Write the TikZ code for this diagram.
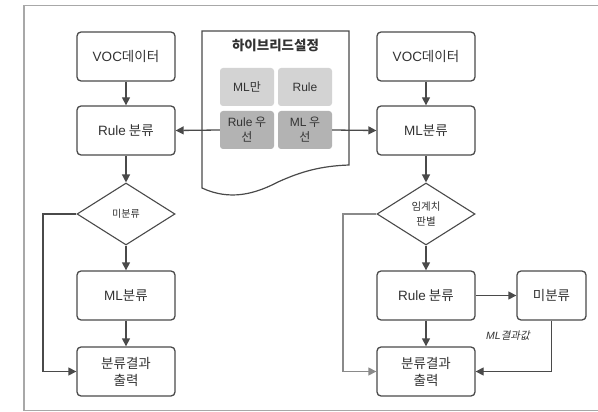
\documentclass[tikz,border=0pt]{standalone}
\usepackage{fontspec}
\setmainfont{Noto Sans CJK KR}
\newfontfamily\lat{Liberation Sans}
\newfontfamily\latit{Liberation Sans Italic}
\newfontfamily\krslant[FakeSlant=0.2]{Noto Sans CJK KR}
\usetikzlibrary{arrows.meta,shapes.geometric}
\definecolor{edge}{HTML}{4A4A4A}
\definecolor{frame}{HTML}{A8A8A8}
\definecolor{ink}{HTML}{333333}
\definecolor{loop}{HTML}{8A8A8A}
\definecolor{tilelight}{HTML}{D3D3D3}
\definecolor{tiledark}{HTML}{B3B3B3}
\tikzset{
  box/.style={draw=edge, line width=1.3pt, rounded corners=4pt, fill=white,
    minimum width=98pt, minimum height=49pt, inner sep=0pt, align=center,
    text=ink, font=\fontsize{13.5}{17}\selectfont},
  decision/.style={draw=edge, line width=1.1pt, diamond, fill=white,
    minimum width=98pt, minimum height=62pt, inner sep=0pt, align=center,
    text=ink},
  tile/.style={rounded corners=3pt, minimum width=54pt, minimum height=38pt,
    inner sep=0pt, align=center, text=ink, font=\fontsize{12}{15}\selectfont},
  arr/.style={draw=edge, line width=1.3pt, -{Triangle[length=8pt,width=8pt]}},
  looparr/.style={draw=loop, line width=1.3pt, -{Triangle[length=8pt,width=8pt]}},
}
\begin{document}
\begin{tikzpicture}[x=1pt, y=-1pt]
\useasboundingbox (0,0) rectangle (598,412);
% outer frame
\draw[frame, line width=1.3pt] (24,5.5) -- (24,410.5) -- (600,410.5);
\draw[frame, line width=1.3pt] (24,5.5) -- (600,5.5);

% settings document
\draw[edge, line width=1.2pt, fill=white]
  (202,31) -- (349,31) -- (349,165)
  .. controls (320,166) and (300,172) .. (278,182)
  .. controls (255,194) and (230,201) .. (202,188) -- cycle;
\node[text=ink, font=\fontsize{13.5}{16}\selectfont\bfseries] (title) at (275.5,45) {하이브리드설정};
\node[tile, fill=tilelight] (mlonly) at (247,87) {{\lat ML}만};
\node[tile, fill=tilelight] (ruleonly) at (305,87) {\lat Rule};
\node[tile, fill=tiledark] (rulefirst) at (247,130) {{\lat Rule} 우\\선};
\node[tile, fill=tiledark] (mlfirst) at (305,130) {{\lat ML} 우\\선};

% left flow
\node[box] (voc1) at (126,56.5) {{\lat VOC}데이터};
\node[box] (rule1) at (126,130.5) {{\lat Rule} 분류};
\node[decision, font=\fontsize{10}{12}\selectfont] (dec1) at (126,214) {미분류};
\node[box] (ml1) at (126,295.5) {{\lat ML}분류};
\node[box] (out1) at (126,371.5) {분류결과\\출력};

% right flow
\node[box] (voc2) at (426,56.5) {{\lat VOC}데이터};
\node[box] (ml2) at (426,130.5) {{\lat ML}분류};
\node[decision, font=\fontsize{10.5}{15}\selectfont] (dec2) at (426,214) {임계치\\판별};
\node[box] (rule2) at (426,295.5) {{\lat Rule} 분류};
\node[box, minimum width=69pt] (unc2) at (551.5,295.5) {미분류};
\node[box] (out2) at (426,371.5) {분류결과\\출력};
\coordinate (loop1) at (43,214);
\coordinate (loop2) at (343,214);

% connectors
\draw[arr] (voc1) -- (rule1);
\draw[arr] (rule1) -- (dec1);
\draw[arr] (dec1) -- (ml1);
\draw[arr] (ml1) -- (out1);
\draw[arr] (dec1.west) -- (loop1) |- (out1.west);
\draw[arr] (rulefirst.west) -- (rule1.east);
\draw[arr] (mlfirst.east) -- (ml2.west);

\draw[arr] (voc2) -- (ml2);
\draw[arr] (ml2) -- (dec2);
\draw[arr] (dec2) -- (rule2);
\draw[arr] (rule2) -- (out2);
\draw[arr] (rule2) -- (unc2);
\draw[looparr] (dec2.west) -- (loop2) |- (out2.west);
\draw[arr] (unc2.south) |- (out2.east);
\node[text=ink, font=\fontsize{10.5}{12}\selectfont] (mlres) at (508,336) {{\latit ML}{\krslant 결과값}};
\end{tikzpicture}
\end{document}
